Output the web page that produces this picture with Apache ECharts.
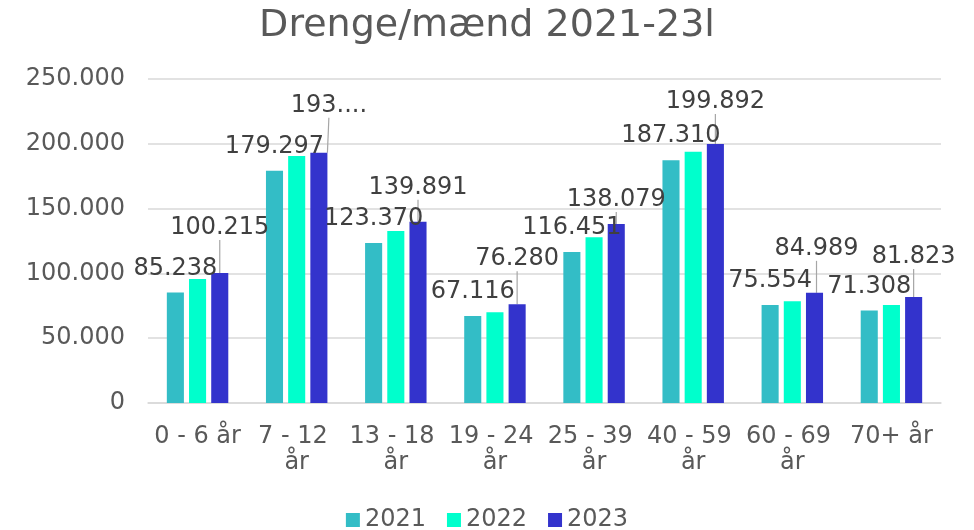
<!DOCTYPE html>
<html>
<head>
<meta charset="utf-8">
<script src="https://cdn.jsdelivr.net/npm/echarts@6/dist/echarts.min.js"></script>
<style>html,body{margin:0;padding:0;background:#fff;}#c{width:974px;height:530px;}</style>
</head>
<body>
<div id="c"></div>
<script>
const categories = ['0 - 6 år', '7 - 12 år', '13 - 18 år', '19 - 24 år', '25 - 39 år', '40 - 59 år', '60 - 69 år', '70+ år'];
const values2021 = [85238, 179297, 123370, 67116, 116451, 187310, 75554, 71308];
const values2022 = [95700, 190600, 132700, 70000, 127900, 193900, 78500, 75600];
const values2023 = [100215, 193100, 139891, 76280, 138079, 199892, 84989, 81823];
const yTicks = [0, 50000, 100000, 150000, 200000, 250000];
// label nudges (px) for the 2023 callouts, as placed in the reference
const callout2023dx = [0, 10, 0, 0, 0, 0, 2, 0];
const callout2023dy = [-21, -23, -10, -21, 0, -18, -20, -16];

const fmt = v => String(v).replace(/\B(?=(\d{3})+(?!\d))/g, '.');
const FONT = 'DejaVu Sans';

const chart = echarts.init(document.getElementById('c'));
chart.setOption({
  animation: false,
  title: {
    text: 'Drenge/mænd 2021-23l',
    left: 'center',
    top: 7,
    padding: 0,
    textStyle: {fontFamily: FONT, fontSize: 38, fontWeight: 'normal', color: '#595959'}
  },
  legend: {
    data: ['2021', '2022', '2023'],
    top: 508,
    left: 'center',
    padding: 0,
    icon: 'rect',
    itemWidth: 14,
    itemHeight: 14,
    itemGap: 21,
    textStyle: {fontFamily: FONT, fontSize: 24, color: '#595959'}
  },
  grid: {left: 148, right: 33, top: 79, bottom: 127, containLabel: false},
  xAxis: {
    type: 'category',
    data: categories,
    axisLine: {lineStyle: {color: '#D9D9D9', width: 1.5}},
    axisTick: {show: false},
    axisLabel: {
      interval: 0,
      margin: 21,
      fontFamily: FONT,
      fontSize: 24,
      lineHeight: 26,
      color: '#595959',
      width: 97,
      overflow: 'break'
    }
  },
  yAxis: {
    type: 'value',
    min: yTicks[0],
    max: yTicks[yTicks.length - 1],
    interval: yTicks[1] - yTicks[0],
    axisLine: {show: false},
    axisTick: {show: false},
    splitLine: {lineStyle: {color: '#D9D9D9', width: 1.5}},
    axisLabel: {
      margin: 23,
      fontFamily: FONT,
      fontSize: 24,
      color: '#595959',
      formatter: v => fmt(v)
    }
  },
  series: [
    {
      name: '2021', type: 'bar', data: values2021,
      barGap: '30%', barCategoryGap: '38%',
      itemStyle: {color: '#33BDC6'},
      label: {
        show: true, position: 'top', distance: 12,
        fontFamily: FONT, fontSize: 24, color: '#404040',
        formatter: p => fmt(p.value)
      }
    },
    {
      name: '2022', type: 'bar', data: values2022,
      barGap: '30%', barCategoryGap: '38%',
      itemStyle: {color: '#00FFCC'}
    },
    {
      name: '2023', type: 'bar', data: values2023,
      barGap: '30%', barCategoryGap: '38%',
      itemStyle: {color: '#3333CC'},
      label: {
        show: true, position: 'top', distance: 12,
        fontFamily: FONT, fontSize: 24, color: '#404040',
        formatter: p => p.dataIndex === 1 ? '193....' : fmt(p.value)
      },
      labelLine: {show: true, lineStyle: {color: '#A6A6A6', width: 1.2}},
      labelLayout: p => ({dx: callout2023dx[p.dataIndex], dy: callout2023dy[p.dataIndex]})
    }
  ]
});
</script>
</body>
</html>
